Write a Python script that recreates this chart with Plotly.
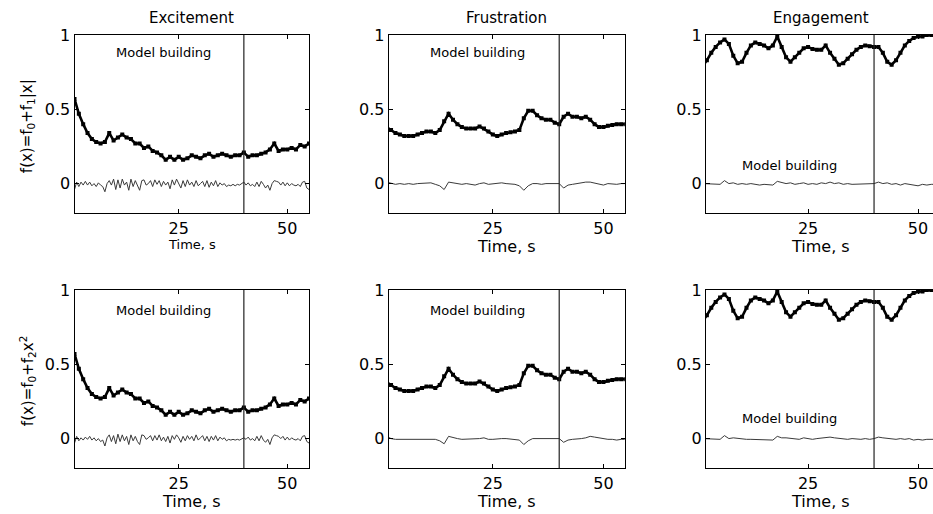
import plotly.graph_objects as go

W, H = 933, 514

# ---------------- data ----------------
time_s = list(range(1, 56))                       # 1 s samples
time_half = [1 + 0.5 * i for i in range(109)]     # 0.5 s samples

excitement = [0.57, 0.47, 0.40, 0.34, 0.30, 0.28, 0.27, 0.28, 0.34, 0.29,
              0.31, 0.33, 0.31, 0.30, 0.27, 0.27, 0.24, 0.25, 0.22, 0.21,
              0.19, 0.16, 0.18, 0.16, 0.18, 0.16, 0.17, 0.19, 0.18, 0.17,
              0.19, 0.20, 0.18, 0.19, 0.20, 0.19, 0.18, 0.19, 0.19, 0.21,
              0.18, 0.19, 0.19, 0.20, 0.21, 0.23, 0.27, 0.22, 0.23, 0.23,
              0.24, 0.23, 0.26, 0.25, 0.27]

frustration = [0.38, 0.36, 0.34, 0.33, 0.32, 0.32, 0.32, 0.33, 0.34, 0.35,
               0.35, 0.34, 0.36, 0.42, 0.47, 0.43, 0.40, 0.38, 0.37, 0.37,
               0.37, 0.385, 0.37, 0.35, 0.33, 0.32, 0.33, 0.34, 0.345, 0.35,
               0.36, 0.44, 0.49, 0.49, 0.46, 0.44, 0.43, 0.43, 0.41, 0.40,
               0.45, 0.47, 0.45, 0.45, 0.44, 0.45, 0.43, 0.40, 0.38, 0.38,
               0.39, 0.395, 0.40, 0.40, 0.40]

engagement = [0.79, 0.83, 0.88, 0.92, 0.95, 0.97, 0.94, 0.86, 0.81, 0.82,
              0.88, 0.93, 0.95, 0.94, 0.93, 0.91, 0.93, 0.99, 0.92, 0.85,
              0.82, 0.85, 0.88, 0.91, 0.92, 0.905, 0.90, 0.90, 0.93, 0.88,
              0.84, 0.80, 0.81, 0.84, 0.87, 0.90, 0.92, 0.93, 0.925, 0.92,
              0.92, 0.88, 0.82, 0.80, 0.83, 0.88, 0.93, 0.96, 0.98, 0.99,
              0.99, 1.0, 1.0, 1.0, 1.0]

exc_resid_abs = [-0.04, 0.01, -0.02, 0.01, -0.01, 0.015, -0.01, 0.01, -0.015, 0.0,
                 -0.02, 0.005, -0.01, -0.02, -0.055, 0.0, 0.02, -0.01, 0.03, -0.04,
                 0.025, -0.03, 0.03, -0.01, 0.01, -0.045, 0.03, -0.02, 0.02, -0.01,
                 -0.045, 0.02, 0.025, -0.01, 0.0, 0.02, -0.02, 0.025, -0.005, 0.02,
                 -0.02, 0.015, -0.01, 0.01, -0.035, 0.025, -0.01, 0.03, 0.0, -0.03,
                 0.02, -0.02, 0.025, -0.01, 0.01, -0.02, 0.02, -0.015, 0.0, 0.015,
                 -0.02, 0.02, -0.025, 0.01, -0.015, 0.02, -0.02, 0.005, -0.01, 0.0,
                 -0.02, -0.01, -0.015, -0.005, -0.015, -0.005, -0.01, 0.0, 0.01, -0.01,
                 0.005, -0.015, -0.005, -0.02, 0.01, -0.02, 0.015, -0.005, -0.03, -0.01,
                 -0.045, 0.0, 0.02, 0.015, 0.01, -0.01, 0.01, -0.015, 0.005, -0.015,
                 0.0, -0.01, -0.015, -0.005, -0.02, 0.01, 0.015, -0.03, -0.04]

exc_resid_sq = [-0.03, 0.015, -0.015, 0.005, -0.01, 0.01, -0.005, 0.015, -0.01, 0.005,
                -0.015, 0.0, -0.02, -0.01, -0.05, 0.005, 0.025, -0.02, 0.02, -0.035,
                0.03, -0.02, 0.025, -0.015, 0.015, -0.04, 0.025, -0.015, 0.015, -0.02,
                -0.04, 0.025, 0.02, -0.005, 0.005, 0.02, -0.015, 0.02, -0.01, 0.025,
                -0.015, 0.01, -0.02, 0.015, -0.03, 0.02, -0.005, 0.025, 0.005, -0.025,
                0.015, -0.015, 0.02, -0.005, 0.015, -0.015, 0.025, -0.01, 0.005, 0.02,
                -0.015, 0.015, -0.02, 0.015, -0.01, 0.02, -0.015, 0.01, -0.005, 0.005,
                -0.015, -0.005, -0.01, -0.005, -0.01, -0.005, -0.01, 0.0, 0.005, -0.005,
                0.01, -0.01, 0.0, -0.015, 0.015, -0.015, 0.02, -0.01, -0.025, -0.005,
                -0.04, 0.005, 0.025, 0.02, 0.015, 0.0, 0.015, -0.01, 0.01, -0.01,
                0.005, -0.005, -0.01, 0.0, -0.015, 0.015, 0.02, -0.02, -0.03]

fru_resid_abs = [0.01, 0.0, -0.005, 0.0, -0.005, 0.0, -0.005, 0.0, 0.0, 0.0,
                 0.005, -0.005, -0.015, -0.04, 0.01, 0.005, 0.0, -0.005, 0.0, -0.005,
                 -0.01, 0.0, 0.005, -0.005, 0.0, 0.0, 0.005, 0.0, 0.0, -0.005,
                 -0.015, -0.045, -0.015, 0.0, 0.0, -0.005, 0.0, 0.0, 0.0, 0.0,
                 -0.03, -0.01, -0.005, 0.0, 0.0, 0.01, 0.01, 0.005, 0.0, -0.01,
                 0.0, -0.005, -0.005, 0.0, 0.0]

fru_resid_sq = [0.015, 0.0, -0.005, -0.005, -0.005, 0.0, -0.005, -0.005, 0.0, 0.0,
                0.0, -0.005, -0.015, -0.035, 0.015, 0.005, 0.0, -0.005, -0.005, -0.005,
                -0.005, 0.0, 0.005, -0.005, -0.005, 0.0, 0.0, 0.0, -0.005, -0.005,
                -0.01, -0.04, -0.015, 0.0, 0.0, -0.005, -0.005, 0.0, 0.0, 0.0,
                -0.025, -0.01, -0.005, -0.005, 0.0, 0.005, 0.015, 0.01, 0.005, -0.005,
                -0.005, -0.005, -0.01, -0.005, -0.005]

eng_resid_abs = [0.0, 0.0, -0.005, -0.005, -0.005, 0.02, 0.0, 0.005, -0.005, 0.0,
                 -0.005, 0.0, -0.005, -0.01, -0.005, -0.01, -0.01, 0.015, 0.005, 0.0,
                 0.005, -0.005, 0.0, 0.005, -0.005, 0.0, -0.005, 0.005, 0.0, 0.01,
                 0.0, 0.005, -0.005, 0.0, -0.005, -0.005, 0.0, -0.005, -0.005, 0.0,
                 0.01, 0.0, 0.005, -0.005, 0.0, -0.01, 0.0, -0.005, -0.01, -0.015,
                 -0.005, -0.01, -0.005, -0.005, -0.005]

eng_resid_sq = [0.0, 0.0, -0.005, -0.005, -0.005, 0.02, 0.0, 0.005, 0.0, -0.005,
                -0.005, -0.005, -0.005, -0.005, -0.01, -0.005, -0.01, 0.015, 0.005, 0.005,
                0.0, 0.0, -0.005, 0.005, 0.0, -0.005, 0.0, 0.005, 0.005, 0.01,
                0.005, 0.0, 0.0, -0.005, 0.0, -0.005, -0.005, 0.0, -0.005, 0.0,
                0.01, 0.005, 0.0, -0.005, -0.005, 0.0, -0.005, 0.0, -0.01, -0.005,
                -0.01, -0.005, -0.005, -0.005, -0.005]

titles = ["Excitement", "Frustration", "Engagement"]
ylabels = ["f(x)=f<sub>0</sub>+f<sub>1</sub>|x|", "f(x)=f<sub>0</sub>+f<sub>2</sub>x<sup>2</sup>"]
x_tick_vals = [25, 50]
x_tick_text = ["25", "50"]
y_tick_vals = [0, 0.5, 1]
y_tick_text = ["0", "0.5", "1"]
split_time = 40
xlabel = "Time, s"
note = "Model building"

# ---------------- layout helpers ----------------
FONT = "DejaVu Sans"

def px_x(p):
    return p / W

def px_y(p):
    return 1 - p / H

col_px = [(74.5, 309.0), (388.7, 624.7), (706.0, 933.0)]
row_px = [(35.0, 213.3), (290.0, 468.3)]
x_ranges = [[1.0, 55.0], [1.47, 54.8], [1.8, 53.4]]
y_range = [-0.2, 1.0]

fig = go.Figure()

thick = [excitement, frustration, engagement]
resid = [[exc_resid_abs, fru_resid_abs, eng_resid_abs],
         [exc_resid_sq, fru_resid_sq, eng_resid_sq]]
resid_x = [time_half, time_s, time_s]

annotations = []
shapes = []

for r in range(2):
    for c in range(3):
        k = r * 3 + c + 1
        xa = "x" if k == 1 else f"x{k}"
        ya = "y" if k == 1 else f"y{k}"
        fig.add_trace(go.Scatter(x=resid_x[c], y=resid[r][c], mode="lines",
                                 line=dict(color="#3a3a3a", width=1),
                                 xaxis=xa, yaxis=ya, showlegend=False))
        fig.add_trace(go.Scatter(x=time_s, y=thick[c], mode="lines+markers",
                                 line=dict(color="black", width=2.6),
                                 marker=dict(color="black", size=4, symbol="square"),
                                 xaxis=xa, yaxis=ya, showlegend=False))
        x0, x1 = col_px[c]
        y0, y1 = row_px[r]
        last_col = (c == 2)
        fig.layout[("xaxis" if k == 1 else f"xaxis{k}")] = dict(
            domain=[px_x(x0), px_x(x1)], range=x_ranges[c], anchor=ya,
            automargin=False,
            showline=True, linecolor="black", linewidth=1, mirror="ticks",
            ticks="inside", ticklen=4, tickcolor="black",
            tickvals=x_tick_vals, ticktext=x_tick_text,
            showgrid=False, zeroline=False,
            ticklabelstandoff=0,
            tickfont=dict(family=FONT, size=16, color="black"))
        fig.layout[("yaxis" if k == 1 else f"yaxis{k}")] = dict(
            domain=[px_y(y1), px_y(y0)], range=y_range, anchor=xa,
            automargin=False,
            showline=True, linecolor="black", linewidth=1,
            mirror=(False if last_col else "ticks"),
            ticks="inside", ticklen=4, tickcolor="black",
            tickvals=y_tick_vals, ticktext=y_tick_text,
            showgrid=False, zeroline=False,
            tickfont=dict(family=FONT, size=16, color="black"))
        shapes.append(dict(type="line", xref=xa, yref=f"{ya} domain",
                           x0=split_time, x1=split_time, y0=0, y1=1,
                           line=dict(color="#222", width=1.2)))
        if c < 2:
            note_y = 0.88 if r == 0 else 0.865
            note_x = 21.5
        else:
            note_y = 0.125 if r == 0 else 0.137
            note_x = 20.7
        annotations.append(dict(text=note, x=note_x, y=note_y, xref=xa, yref=ya,
                                showarrow=False, xanchor="center", yanchor="middle",
                                font=dict(family=FONT, size=13, color="black")))
        if r == 0 and c == 0:
            xt_y, fs = y1 + 31.5, 13
        else:
            xt_y, fs = y1 + 33, 16
        annotations.append(dict(text=xlabel, x=px_x((x0 + x1) / 2 if c < 2 else 820),
                                y=px_y(xt_y), xref="paper", yref="paper",
                                showarrow=False, xanchor="center", yanchor="middle",
                                font=dict(family=FONT, size=fs, color="black")))

for c, t in enumerate(titles):
    x0, x1 = col_px[c]
    cx = (x0 + x1) / 2 if c < 2 else 821
    annotations.append(dict(text=t, x=px_x(cx), y=px_y(18), xref="paper", yref="paper",
                            showarrow=False, xanchor="center", yanchor="middle",
                            font=dict(family=FONT, size=15, color="black")))

for r, lab in enumerate(ylabels):
    y0, y1 = row_px[r]
    annotations.append(dict(text=lab, x=px_x(27), y=px_y((y0 + y1) / 2 + 2),
                            xref="paper", yref="paper", textangle=-90,
                            showarrow=False, xanchor="center", yanchor="middle",
                            font=dict(family=FONT, size=15, color="black")))

fig.update_layout(width=W, height=H, margin=dict(l=0, r=0, t=0, b=0, autoexpand=False),
                  paper_bgcolor="white", plot_bgcolor="white",
                  annotations=annotations, shapes=shapes,
                  font=dict(family=FONT, color="black"))

post = ("document.documentElement.style.margin='0';"
        "document.body.style.margin='0';document.body.style.overflow='hidden';"
        "var d=document.getElementById('{plot_id}');"
        "d.style.position='fixed';d.style.top='0px';d.style.left='0px';")

fig.write_html("out.html", config={"displayModeBar": False}, post_script=post)
